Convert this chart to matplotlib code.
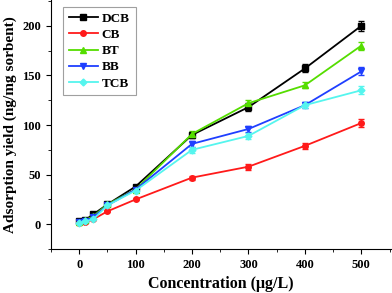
import numpy as np
import matplotlib
matplotlib.use("Agg")
import matplotlib.pyplot as plt
from matplotlib.ticker import MultipleLocator
from matplotlib.lines import Line2D

conc = [0, 10, 25, 50, 100, 200, 300, 400, 500]
names = ["DCB", "CB", "BT", "BB", "TCB"]
dcb = [3, 4, 10, 20, 38, 90, 118, 157, 200]
cb = [1, 2, 5, 13, 25, 47, 58, 79, 102]
bt = [2, 4, 8, 20, 35, 91, 122, 140, 180]
bb = [2, 3, 7, 19, 35, 81, 96, 120, 154]
tcb = [1, 3, 5, 19, 34, 75, 89, 120, 135]
dcb_err = [1, 1, 1, 1, 2, 3, 4, 4, 5]
cb_err = [1, 1, 1, 1, 1, 2, 3, 3, 4]
bt_err = [1, 1, 1, 1, 2, 3, 3, 3, 4]
bb_err = [1, 1, 1, 1, 2, 3, 3, 3, 4]
tcb_err = [1, 1, 1, 1, 2, 3, 3, 3, 4]

series = [dcb, cb, bt, bb, tcb]
errors = [dcb_err, cb_err, bt_err, bb_err, tcb_err]
colors = ["black", "#ff1a1a", "#55dd00", "#1f3fff", "#55f5ee"]
markers = ["s", "o", "^", "v", "D"]

plt.rcParams["font.family"] = "Liberation Serif"
plt.rcParams["font.weight"] = "bold"

fig = plt.figure(figsize=(3.92, 2.93), dpi=100)
ax = fig.add_axes([0.130, 0.150, 0.868, 0.850])

handles = []
for vals, err, c, m, n in zip(series, errors, colors, markers, names):
    ms = 4 if m != "D" else 3.5
    ax.errorbar(conc, vals, yerr=err, color=c, marker=m, markersize=ms,
                lw=1.3, elinewidth=0.8, capsize=2, ecolor=c)
    handles.append(Line2D([], [], color=c, marker=m, markersize=ms, lw=1.3, label=n))

ax.set_xlim(-50, 553)
ax.set_ylim(-25, 226)
ax.xaxis.set_major_locator(MultipleLocator(100))
ax.xaxis.set_minor_locator(MultipleLocator(50))
ax.yaxis.set_major_locator(MultipleLocator(50))
ax.yaxis.set_minor_locator(MultipleLocator(25))
ax.tick_params(which="both", direction="out", labelsize=9)
ax.tick_params(which="major", length=3.5)
ax.tick_params(which="minor", length=2)
for s in ["top", "right"]:
    ax.spines[s].set_visible(False)
for lbl in ax.get_xticklabels() + ax.get_yticklabels():
    lbl.set_fontweight("bold")

ax.set_xlabel("Concentration (μg/L)", fontsize=11.5, fontweight="bold", labelpad=4)
ax.set_ylabel("Adsorption yield (ng/mg sorbent)", fontsize=11, fontweight="bold", labelpad=4)

leg = ax.legend(handles=handles, loc="upper left", bbox_to_anchor=(0.015, 1.0), fontsize=9.5,
                frameon=True, fancybox=False, edgecolor="#888888", handlelength=2.2,
                labelspacing=0.3, borderpad=0.45, handletextpad=0.3)
leg.get_frame().set_linewidth(0.8)
for t in leg.get_texts():
    t.set_fontweight("bold")

fig.savefig("out.png", dpi=100)
